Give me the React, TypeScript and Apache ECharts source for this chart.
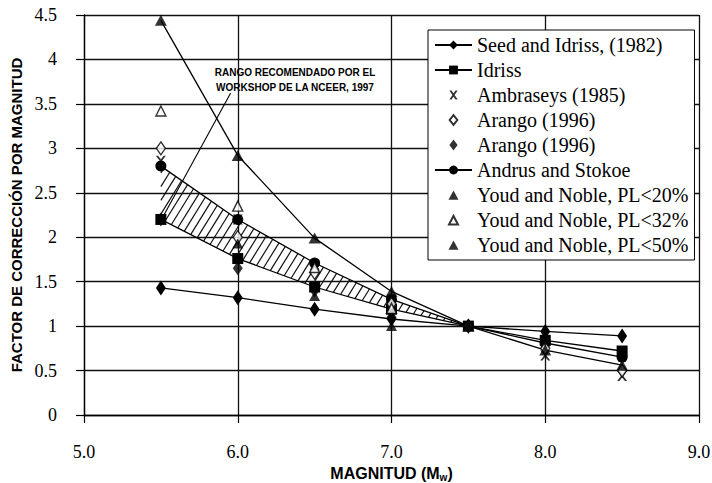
import React, { useEffect, useRef } from "react";
import * as echarts from "echarts";

// ---- data ----
const MAGNITUDES = [5.5, 6.0, 6.5, 7.0, 7.5, 8.0, 8.5];
const SEED_IDRISS = [1.43, 1.32, 1.19, 1.08, 1.0, 0.94, 0.89];
const IDRISS = [2.2, 1.76, 1.44, 1.19, 1.0, 0.84, 0.72];
const AMBRASEYS = [2.86, 2.2, 1.69, 1.3, 1.0, 0.67, 0.44];
const ARANGO_OPEN = [3.0, 2.0, 1.6, 1.25, 1.0, 0.75, 0.5];
const ARANGO_FILLED = [2.2, 1.65, 1.4, 1.1, 1.0, 0.85, null];
const ANDRUS_STOKOE = [2.8, 2.2, 1.71, 1.3, 1.0, 0.81, 0.65];
const YOUD_PL20 = [null, 1.93, 1.34, 1.0, null, null, null];
const YOUD_PL32 = [3.42, 2.35, 1.66, 1.2, null, null, null];
const YOUD_PL50 = [4.44, 2.92, 1.99, 1.39, 1.0, 0.73, 0.56];

// NCEER recommended range (hatched band)
const BAND_MAGNITUDES = [5.5, 6.0, 6.5, 7.0, 7.5];
const BAND_UPPER = [2.8, 2.2, 1.71, 1.3, 1.0];
const BAND_LOWER = [2.2, 1.76, 1.44, 1.19, 1.0];

// annotation pointer (data coordinates)
const POINTER_X = [5.953, 5.52];
const POINTER_Y = [3.62, 2.25];

const X_MIN = 5, X_MAX = 9, X_STEP = 1;
const Y_MIN = 0, Y_MAX = 4.5, Y_STEP = 0.5;

const NAMES = {
  seed: "Seed and Idriss, (1982)",
  idriss: "Idriss",
  amb: "Ambraseys (1985)",
  arOpen: "Arango (1996) #1",
  arFilled: "Arango (1996) #2",
  andrus: "Andrus and Stokoe",
  pl20: "Youd and Noble, PL<20%",
  pl32: "Youd and Noble, PL<32%",
  pl50: "Youd and Noble, PL<50%",
};

const X_PATH =
  "path://M0,0 L2.2,0 L5,3.4 L7.8,0 L10,0 L6.2,5 L10,10 L7.8,10 L5,6.6 L2.2,10 L0,10 L3.8,5 Z";

// legend icons in a 37 x 11 box (corner specks fix the box size)
const BOX = "M0,0 L0.01,0 M37,11 L36.99,11 ";
const ICON_X =
  "path://" + BOX + "M14.3,1 L16.5,1 L18.5,3.7 L20.5,1 L22.7,1 L19.6,5.5 L22.7,10 L20.5,10 L18.5,7.3 L16.5,10 L14.3,10 L17.4,5.5 Z";
const ICON_DIAMOND_OPEN = "path://" + BOX + "M18.5,0.7 L22.3,5.5 L18.5,10.3 L14.7,5.5 Z";
const ICON_DIAMOND = "path://" + BOX + "M18.5,0 L22.6,5.5 L18.5,11 L14.4,5.5 Z";
const ICON_TRIANGLE = "path://" + BOX + "M13.5,10.3 L23.5,10.3 L18.5,1 Z";
const ICON_TRIANGLE_OPEN = "path://" + BOX + "M14,10 L23,10 L18.5,1.5 Z";

const pairs = (ys: (number | null)[]) =>
  MAGNITUDES.map((m, i) => [m, ys[i]]).filter((p) => p[1] !== null);

const BLACK = "#000";
const SERIF = "'Liberation Serif', 'Times New Roman', serif";
const SANS = "'Liberation Sans', Arial, sans-serif";

export default function App() {
  const ref = useRef<HTMLDivElement>(null);
  useEffect(() => {
    if (!ref.current) return;
    const chart = echarts.init(ref.current, null, { renderer: "svg" });

    const hatchSeries = {
      type: "custom",
      name: "band",
      z: 1,
      silent: true,
      data: [[BAND_MAGNITUDES[0], BAND_UPPER[0]]],
      encode: { x: 0, y: 1 },
      renderItem: (params: any, api: any) => {
        if (params.dataIndex !== 0) return null;
        const up = BAND_MAGNITUDES.map((m, i) => api.coord([m, BAND_UPPER[i]]));
        const lo = BAND_MAGNITUDES.map((m, i) => api.coord([m, BAND_LOWER[i]]));
        const poly = [...up, ...lo.slice().reverse()];
        const k = 0.62;
        const vals = poly.map((p: number[]) => p[0] + k * p[1]);
        const cmin = Math.min(...vals);
        const cmax = Math.max(...vals);
        const step = 8.5;
        const children: any[] = [];
        for (let c = cmin + step / 2; c < cmax; c += step) {
          const pts: number[][] = [];
          for (let i = 0; i < poly.length; i++) {
            const a = poly[i];
            const b = poly[(i + 1) % poly.length];
            const fa = a[0] + k * a[1] - c;
            const fb = b[0] + k * b[1] - c;
            if (fa < 0 !== fb < 0) {
              const t = fa / (fa - fb);
              pts.push([a[0] + (b[0] - a[0]) * t, a[1] + (b[1] - a[1]) * t]);
            }
          }
          pts.sort((p, q) => p[1] - q[1]);
          for (let j = 0; j + 1 < pts.length; j += 2) {
            children.push({
              type: "line",
              shape: { x1: pts[j][0], y1: pts[j][1], x2: pts[j + 1][0], y2: pts[j + 1][1] },
              style: { stroke: "#111", lineWidth: 1.2 },
            });
          }
        }
        return { type: "group", children };
      },
    };

    const lineStyle = { color: BLACK, width: 1.3 };

    const option: any = {
      animation: false,
      backgroundColor: "#fff",
      grid: { left: 84, right: 13, top: 15, bottom: 68, outerBoundsMode: "none", containLabel: false },
      xAxis: {
        type: "value",
        min: X_MIN,
        max: X_MAX,
        interval: X_STEP,
        name: "{b|MAGNITUD (M}{s|w}{b|)}",
        nameLocation: "middle",
        nameGap: 46,
        nameTextStyle: {
          rich: {
            b: { fontFamily: SANS, fontWeight: "bold", fontSize: 16, color: BLACK },
            s: { fontFamily: SANS, fontWeight: "bold", fontSize: 10, color: BLACK, verticalAlign: "bottom", padding: [8, 0, 0, 0] },
          },
        },
        axisLine: { show: true, lineStyle: { color: BLACK, width: 1.3 } },
        axisTick: { show: true, length: 8, lineStyle: { color: BLACK, width: 1.2 } },
        splitLine: { show: true, lineStyle: { color: "#111", width: 1.3 } },
        axisLabel: {
          margin: 28,
          fontFamily: SERIF,
          fontSize: 18,
          color: BLACK,
          formatter: (v: number) => v.toFixed(1),
        },
      },
      yAxis: {
        type: "value",
        min: Y_MIN,
        max: Y_MAX,
        interval: Y_STEP,
        name: "FACTOR DE CORRECCIÓN POR MAGNITUD",
        nameLocation: "middle",
        nameGap: 55,
        nameTextStyle: { fontFamily: SANS, fontWeight: "bold", fontSize: 15, color: BLACK },
        axisLine: { show: true, lineStyle: { color: BLACK, width: 1.3 } },
        axisTick: { show: true, length: 8, lineStyle: { color: BLACK, width: 1.2 } },
        splitLine: { show: true, lineStyle: { color: "#111", width: 1.3 } },
        axisLabel: {
          margin: 27,
          fontFamily: SERIF,
          fontSize: 18,
          color: BLACK,
          formatter: (v: number) => String(v),
        },
      },
      legend: {
        orient: "vertical",
        left: 428,
        top: 30,
        data: [
          { name: NAMES.seed },
          { name: NAMES.idriss },
          { name: NAMES.amb, icon: ICON_X },
          { name: NAMES.arOpen, icon: ICON_DIAMOND_OPEN },
          { name: NAMES.arFilled, icon: ICON_DIAMOND },
          { name: NAMES.andrus },
          { name: NAMES.pl20, icon: ICON_TRIANGLE },
          { name: NAMES.pl32, icon: ICON_TRIANGLE_OPEN },
          { name: NAMES.pl50, icon: ICON_TRIANGLE },
        ],
        itemWidth: 37,
        itemHeight: 11,
        itemGap: 5,
        padding: [5, 6, 5, 6],
        backgroundColor: "#fff",
        borderColor: BLACK,
        borderWidth: 1,
        selectedMode: false,
        textStyle: { fontFamily: SERIF, fontSize: 20, color: BLACK, lineHeight: 18 },
        formatter: (name: string) => name.replace(/ #\d$/, ""),
      },
      graphic: [
        {
          type: "text",
          x: 295,
          y: 65,
          z: 5,
          style: {
            text: "RANGO RECOMENDADO POR EL\nWORKSHOP DE LA NCEER, 1997",
            font: `bold 10px ${SANS}`,
            fill: BLACK,
            textAlign: "center",
            textVerticalAlign: "top",
            lineHeight: 15,
          },
        },
      ],
      series: [
        hatchSeries,
        {
          type: "line",
          name: "pointer",
          z: 2,
          silent: true,
          symbol: "none",
          data: POINTER_X.map((x, i) => [x, POINTER_Y[i]]),
          lineStyle: { color: BLACK, width: 1.1 },
        },
        {
          type: "line",
          name: "pl50-line",
          z: 2,
          silent: true,
          symbol: "none",
          data: pairs(YOUD_PL50),
          lineStyle,
        },
        {
          type: "line",
          name: NAMES.seed,
          z: 3,
          data: pairs(SEED_IDRISS),
          symbol: "diamond",
          symbolSize: [10, 15],
          itemStyle: { color: BLACK },
          lineStyle,
        },
        {
          type: "line",
          name: NAMES.idriss,
          z: 3,
          data: pairs(IDRISS),
          symbol: "rect",
          symbolSize: 11,
          itemStyle: { color: BLACK },
          lineStyle,
        },
        {
          type: "scatter",
          name: NAMES.amb,
          z: 4,
          data: pairs(AMBRASEYS),
          symbol: X_PATH,
          symbolSize: 10,
          itemStyle: { color: BLACK },
        },
        {
          type: "scatter",
          name: NAMES.arOpen,
          z: 4,
          data: pairs(ARANGO_OPEN),
          symbol: "diamond",
          symbolSize: [9, 13],
          itemStyle: { color: "#fff", borderColor: BLACK, borderWidth: 1.4 },
        },
        {
          type: "scatter",
          name: NAMES.arFilled,
          z: 4,
          data: pairs(ARANGO_FILLED),
          symbol: "diamond",
          symbolSize: [10, 14],
          itemStyle: { color: BLACK },
        },
        {
          type: "line",
          name: NAMES.andrus,
          z: 3,
          data: pairs(ANDRUS_STOKOE),
          symbol: "circle",
          symbolSize: 11,
          itemStyle: { color: BLACK },
          lineStyle,
        },
        {
          type: "scatter",
          name: NAMES.pl20,
          z: 4,
          data: pairs(YOUD_PL20),
          symbol: "triangle",
          symbolSize: [11, 10],
          itemStyle: { color: BLACK },
        },
        {
          type: "scatter",
          name: NAMES.pl32,
          z: 4,
          data: pairs(YOUD_PL32),
          symbol: "triangle",
          symbolSize: [10, 10],
          itemStyle: { color: "#fff", borderColor: BLACK, borderWidth: 1.4 },
        },
        {
          type: "scatter",
          name: NAMES.pl50,
          z: 4,
          data: pairs(YOUD_PL50),
          symbol: "triangle",
          symbolSize: [12, 11],
          itemStyle: { color: BLACK },
        },
      ],
    };

    chart.setOption(option);
    return () => chart.dispose();
  }, []);

  return (
    <div
      ref={ref}
      style={{ position: "fixed", left: 0, top: 0, width: 712, height: 483, background: "#fff" }}
    />
  );
}
